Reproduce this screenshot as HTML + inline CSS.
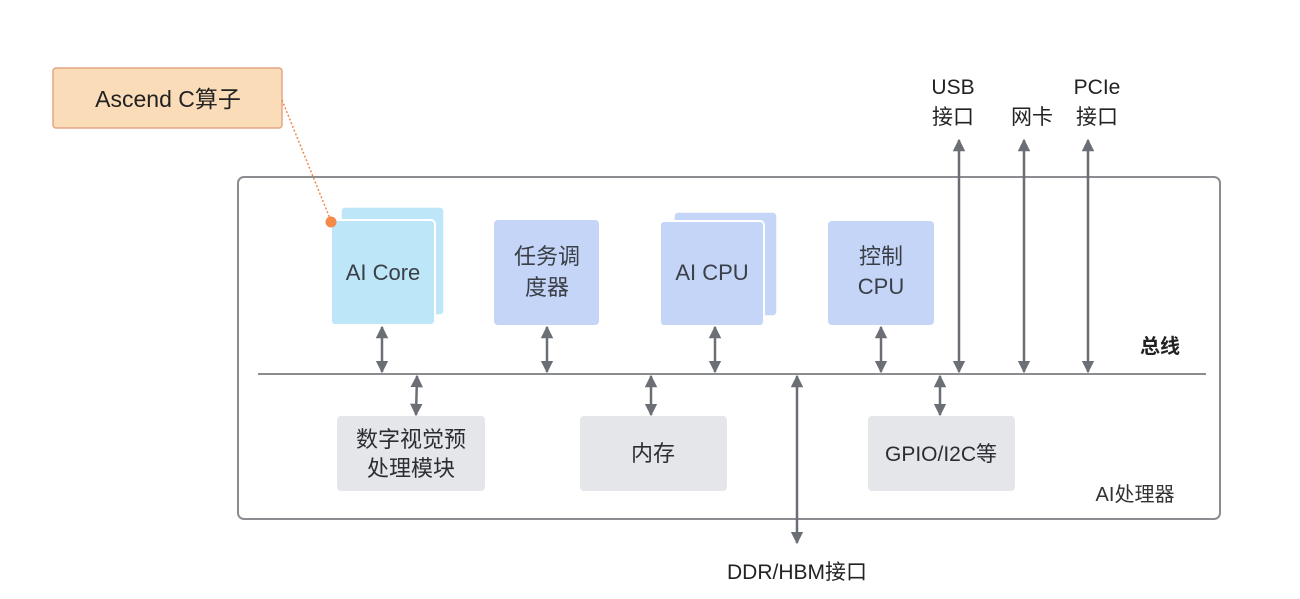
<!DOCTYPE html>
<html><head><meta charset="utf-8"><style>
html,body{margin:0;padding:0;background:#fff;}
svg{display:block;font-family:"Liberation Sans","Noto Sans CJK SC",sans-serif;}
</style></head><body>
<svg width="1300" height="599" viewBox="0 0 1300 599" xmlns="http://www.w3.org/2000/svg">
<defs>
<marker id="a" viewBox="0 0 10 10" refX="9" refY="5" markerWidth="5" markerHeight="5" orient="auto-start-reverse"><path d="M0,0 L10,5 L0,10 z" fill="#6b6e75"/></marker>
</defs>
<rect x="0" y="0" width="1300" height="599" fill="#fff"/>
<rect x="238" y="177" width="982" height="342" rx="6" fill="none" stroke="#8a8c90" stroke-width="2"/>
<line x1="258" y1="374" x2="1206" y2="374" stroke="#8a8c90" stroke-width="2"/>
<text x="1160" y="353" font-size="20" font-weight="bold" fill="#222" text-anchor="middle">总线</text>
<text x="1135" y="501" font-size="20" fill="#333" text-anchor="middle">AI处理器</text>
<rect x="53" y="68" width="229" height="60" rx="3" fill="#fadcb8" stroke="#e3a684" stroke-width="1.5"/>
<text x="168" y="107" font-size="23" fill="#222" text-anchor="middle">Ascend C算子</text>
<line x1="282" y1="100" x2="331" y2="221" stroke="#f08a4b" stroke-width="1.5" stroke-dasharray="2,2"/>
<rect x="341" y="207" width="103" height="108" rx="4" fill="#bde6f8" stroke="#fff" stroke-width="1.5"/>
<rect x="331" y="220" width="104" height="105" rx="4" fill="#bde6f8" stroke="#fff" stroke-width="2"/>
<text x="383" y="280" font-size="22" fill="#3a3f47" text-anchor="middle">AI Core</text>
<circle cx="331" cy="222" r="5.5" fill="#f5894a"/>
<rect x="494" y="220" width="105" height="105" rx="4" fill="#c5d5f7"/>
<text x="547" y="264" font-size="22" fill="#3a3f47" text-anchor="middle">任务调</text>
<text x="547" y="295" font-size="22" fill="#3a3f47" text-anchor="middle">度器</text>
<rect x="674" y="212" width="103" height="104" rx="4" fill="#c5d5f7" stroke="#fff" stroke-width="1.5"/>
<rect x="660" y="221" width="104" height="105" rx="4" fill="#c5d5f7" stroke="#fff" stroke-width="2"/>
<text x="712" y="280" font-size="22" fill="#3a3f47" text-anchor="middle">AI CPU</text>
<rect x="828" y="221" width="106" height="104" rx="4" fill="#c5d5f7"/>
<text x="881" y="264" font-size="22" fill="#3a3f47" text-anchor="middle">控制</text>
<text x="881" y="294" font-size="22" fill="#3a3f47" text-anchor="middle">CPU</text>
<rect x="337" y="416" width="148" height="75" rx="4" fill="#e4e6ea"/>
<text x="411" y="447" font-size="22" fill="#2a2d33" text-anchor="middle">数字视觉预</text>
<text x="411" y="476" font-size="22" fill="#2a2d33" text-anchor="middle">处理模块</text>
<rect x="580" y="416" width="147" height="75" rx="4" fill="#e4e6ea"/>
<text x="653" y="461" font-size="22" fill="#2a2d33" text-anchor="middle">内存</text>
<rect x="868" y="416" width="147" height="75" rx="4" fill="#e4e6ea"/>
<text x="941" y="461" font-size="21" fill="#2a2d33" text-anchor="middle">GPIO/I2C等</text>
<g stroke="#6b6e75" stroke-width="2.5" marker-start="url(#a)" marker-end="url(#a)">
<line x1="382" y1="327" x2="382" y2="372"/>
<line x1="547" y1="327" x2="547" y2="372"/>
<line x1="715" y1="327" x2="715" y2="372"/>
<line x1="881" y1="327" x2="881" y2="372"/>
<line x1="959" y1="140" x2="959" y2="372"/>
<line x1="1024" y1="140" x2="1024" y2="372"/>
<line x1="1088" y1="140" x2="1088" y2="372"/>
<line x1="417" y1="376" x2="416" y2="415"/>
<line x1="651" y1="376" x2="651" y2="415"/>
<line x1="940" y1="376" x2="940" y2="415"/>
<line x1="797" y1="376" x2="797" y2="543"/>
</g>
<text x="797" y="579" font-size="21" fill="#222" text-anchor="middle">DDR/HBM接口</text>
<text x="953" y="94" font-size="21" fill="#222" text-anchor="middle">USB</text>
<text x="953" y="124" font-size="21" fill="#222" text-anchor="middle">接口</text>
<text x="1032" y="124" font-size="21" fill="#222" text-anchor="middle">网卡</text>
<text x="1097" y="94" font-size="21" fill="#222" text-anchor="middle">PCIe</text>
<text x="1097" y="124" font-size="21" fill="#222" text-anchor="middle">接口</text>
</svg>
</body></html>
